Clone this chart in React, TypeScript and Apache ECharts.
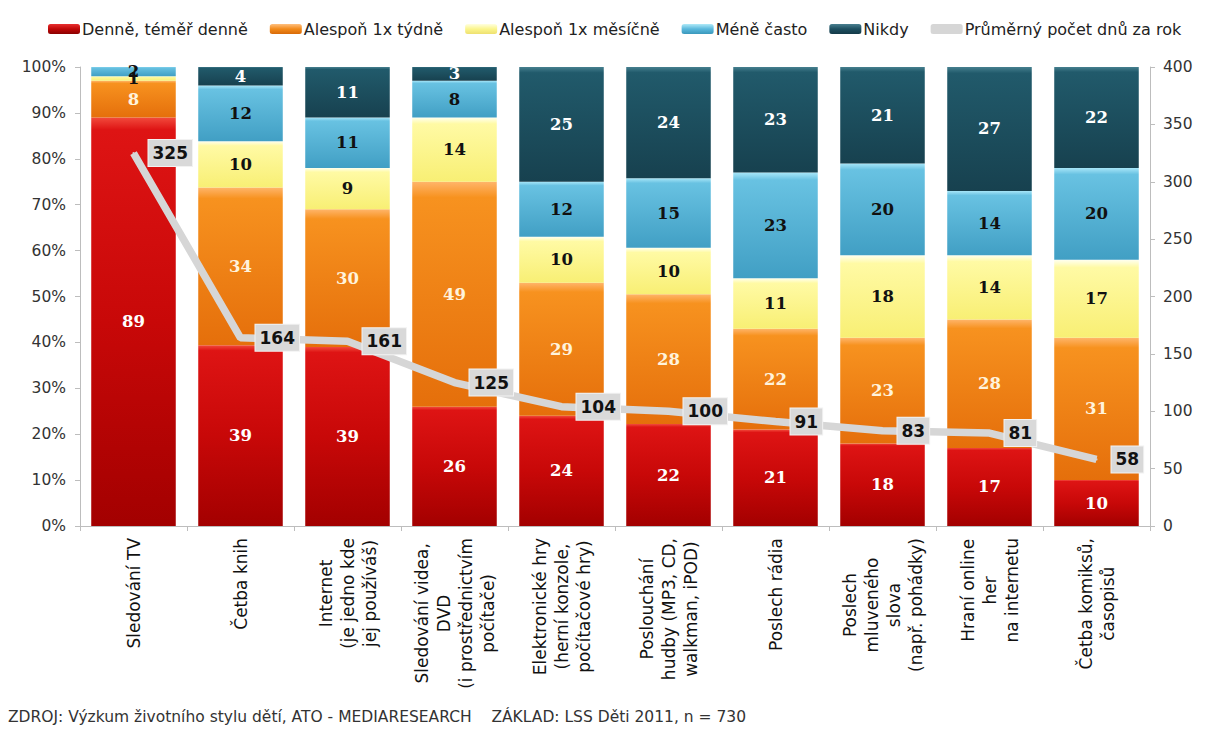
import React, { useEffect, useRef } from 'react';
import * as echarts from 'echarts';

const categories = [
  'Sledování TV',
  'Četba knih',
  'Internet\n(je jedno kde\njej používáš)',
  'Sledování videa,\nDVD\n(i prostřednictvím\npočítače)',
  'Elektronické hry\n(herní konzole,\npočítačové hry)',
  'Poslouchání\nhudby (MP3, CD,\nwalkman, iPOD)',
  'Poslech rádia',
  'Poslech\nmluveného\nslova\n(např. pohádky)',
  'Hraní online\nher\nna internetu',
  'Četba komiksů,\nčasopisů',
];

const denne = [89, 39, 39, 26, 24, 22, 21, 18, 17, 10];
const tydne = [8, 34, 30, 49, 29, 28, 22, 23, 28, 31];
const mesicne = [1, 10, 9, 14, 10, 10, 11, 18, 14, 17];
const meneCasto = [2, 12, 11, 8, 12, 15, 23, 20, 14, 20];
const nikdy = [0, 4, 11, 3, 25, 24, 23, 21, 27, 22];
const prumerDnu = [325, 164, 161, 125, 104, 100, 91, 83, 81, 58];

const seriesNames = [
  'Denně, téměř denně',
  'Alespoň 1x týdně',
  'Alespoň 1x měsíčně',
  'Méně často',
  'Nikdy',
];
const lineName = 'Průměrný počet dnů za rok';
const footer =
  'ZDROJ: Výzkum životního stylu dětí, ATO - MEDIARESEARCH    ZÁKLAD: LSS Děti 2011, n = 730';

const FONT = '"DejaVu Sans", Verdana, sans-serif';
const SERIF = '"DejaVu Serif", "Liberation Serif", serif';

const grad = (stops: [number, string][]) => ({
  type: 'linear',
  x: 0,
  y: 0,
  x2: 0,
  y2: 1,
  colorStops: stops.map(([offset, color]) => ({ offset, color })),
});

const colors = [
  grad([[0, '#f24a3c'], [0.03, '#de1414'], [0.5, '#c80808'], [1, '#a30000']]),
  grad([[0, '#ffb56a'], [0.07, '#f7921f'], [1, '#e56f0b']]),
  grad([[0, '#fffff0'], [0.1, '#fffaa4'], [1, '#f8ef74']]),
  grad([[0, '#a8e6f8'], [0.07, '#68c2e2'], [1, '#419fc4']]),
  grad([[0, '#46808f'], [0.05, '#215a6b'], [1, '#17414f']]),
];
const legendColors = [
  grad([[0, '#e83030'], [0.5, '#c00808'], [1, '#8a0000']]),
  grad([[0, '#ffc080'], [0.5, '#f28a1a'], [1, '#d86a08']]),
  grad([[0, '#ffffe0'], [0.5, '#fbf58c'], [1, '#eee070']]),
  grad([[0, '#b0eaf8'], [0.5, '#5ab8dc'], [1, '#3a98bc']]),
  grad([[0, '#4a8090'], [0.5, '#1e4f60'], [1, '#143a48']]),
];
const labelColors = ['#ffffff', '#fff3dc', '#111111', '#111111', '#ffffff'];

export default function App() {
  const ref = useRef<HTMLDivElement>(null);

  useEffect(() => {
    if (!ref.current) return;
    const chart = echarts.init(ref.current, undefined, { renderer: 'svg' });
    const raw = [denne, tydne, mesicne, meneCasto, nikdy];
    const totals = categories.map((_, i) => raw.reduce((s, arr) => s + arr[i], 0));

    const barSeries = raw.map((arr, si) => ({
      name: seriesNames[si],
      type: 'bar',
      stack: 'total',
      yAxisIndex: 0,
      barCategoryGap: '21%',
      data: arr.map((v, i) => (v / totals[i]) * 100),
      itemStyle: { color: colors[si] },
      label: {
        show: true,
        position: 'inside',
        formatter: (p: any) => (arr[p.dataIndex] ? String(arr[p.dataIndex]) : ''),
        color: labelColors[si],
        fontFamily: SERIF,
        fontWeight: 'bold',
        fontSize: 16.5,
      },
      emphasis: { disabled: true },
    }));

    const option: any = {
      animation: false,
      legend: {
        top: 16,
        left: 43,
        itemWidth: 32,
        itemHeight: 10,
        itemGap: 22,
        textStyle: { fontFamily: FONT, fontSize: 16, color: '#222', padding: [0, 0, 0, -3] },
        data: [
          ...seriesNames.map((n, i) => ({ name: n, itemStyle: { color: legendColors[i] } })),
          { name: lineName, itemStyle: { color: '#d6d6d6' }, icon: 'roundRect' },
        ],
      },
      title: {
        text: footer,
        left: 8,
        bottom: 4,
        padding: 0,
        textStyle: { fontFamily: FONT, fontSize: 15.5, fontWeight: 'normal', color: '#333' },
      },
      grid: { left: 80, right: 56, top: 67, bottom: 203 },
      xAxis: {
        type: 'category',
        data: categories,
        axisLine: { lineStyle: { color: '#bdbdbd' } },
        axisTick: { show: true, length: 5, lineStyle: { color: '#bdbdbd' } },
        axisLabel: {
          rotate: 90,
          interval: 0,
          margin: 12,
          color: '#111',
          fontFamily: FONT,
          fontSize: 17,
          lineHeight: 22,
          formatter: (v: string) =>
            v
              .split('\n')
              .map((l) => `{c|${l}}`)
              .join('\n'),
          rich: {
            c: { align: 'center', fontFamily: FONT, fontSize: 17, lineHeight: 22, color: '#111' },
          },
        },
      },
      yAxis: [
        {
          type: 'value',
          min: 0,
          max: 100,
          interval: 10,
          axisLine: { show: true, lineStyle: { color: '#bdbdbd' } },
          axisTick: { show: true, length: 5, lineStyle: { color: '#bdbdbd' } },
          splitLine: { show: false },
          axisLabel: {
            formatter: '{value}%',
            margin: 14,
            color: '#333',
            fontFamily: FONT,
            fontSize: 15.5,
          },
        },
        {
          type: 'value',
          min: 0,
          max: 400,
          interval: 50,
          position: 'right',
          axisLine: { show: true, lineStyle: { color: '#bdbdbd' } },
          axisTick: { show: true, length: 5, lineStyle: { color: '#bdbdbd' } },
          splitLine: { show: false },
          axisLabel: {
            margin: 13,
            color: '#333',
            fontFamily: FONT,
            fontSize: 15.5,
          },
        },
      ],
      series: [
        ...barSeries,
        {
          name: lineName,
          type: 'line',
          yAxisIndex: 1,
          z: 5,
          data: prumerDnu,
          symbol: 'circle',
          symbolSize: 2,
          showSymbol: true,
          lineStyle: { color: '#d6d6d6', width: 7.5 },
          itemStyle: { color: '#d6d6d6' },
          label: {
            show: true,
            position: 'right',
            distance: 14,
            color: '#111',
            fontFamily: FONT,
            fontWeight: 'bold',
            fontSize: 17,
            backgroundColor: '#d9d9d9',
            borderColor: '#f2f2f2',
            borderWidth: 1,
            padding: [5, 4, 4, 4],
          },
          emphasis: { disabled: true },
        },
      ],
    };

    chart.setOption(option);
    return () => chart.dispose();
  }, []);

  return (
    <div
      ref={ref}
      style={{ position: 'absolute', left: 0, top: 0, width: 1206, height: 729 }}
    />
  );
}
